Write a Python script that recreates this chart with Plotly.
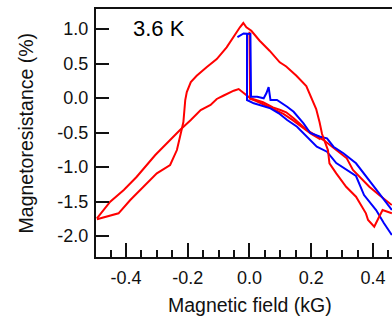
import plotly.graph_objects as go

# Red branch A (large peak, jumps)
red_a_x = [-0.494, -0.424, -0.386, -0.354, -0.300, -0.257, -0.235, -0.225, -0.214, -0.208, -0.203, -0.190,
           -0.171, -0.139, -0.106, -0.074, -0.053, -0.031, -0.020, -0.010, 0.006, 0.033, 0.065, 0.098,
           0.119, 0.152, 0.184, 0.200, 0.216, 0.227, 0.235, 0.254, 0.259, 0.281, 0.313, 0.345, 0.377,
           0.384, 0.404, 0.420, 0.431, 0.461]
red_a_y = [-1.758, -1.671, -1.478, -1.333, -1.091, -0.971, -0.754, -0.561, -0.348, -0.029, 0.087, 0.232,
           0.323, 0.445, 0.565, 0.735, 0.880, 1.025, 1.087, 1.025, 0.975, 0.830, 0.686, 0.517,
           0.457, 0.323, 0.174, 0.010, -0.159, -0.352, -0.522, -0.754, -0.946, -1.091, -1.286, -1.430, -1.671,
           -1.768, -1.865, -1.720, -1.623, -1.671]

# Red branch B (small peak)
red_b_x = [-0.494, -0.451, -0.407, -0.365, -0.305, -0.268, -0.225, -0.190, -0.158, -0.126, -0.106, -0.085,
           -0.064, -0.051, -0.035, -0.019, 0.003, 0.044, 0.076, 0.100, 0.119, 0.143, 0.186, 0.240,
           0.283, 0.315, 0.335, 0.367, 0.388, 0.420, 0.461]
red_b_y = [-1.743, -1.503, -1.333, -1.141, -0.826, -0.657, -0.464, -0.319, -0.174, -0.101, -0.014, 0.033,
           0.083, 0.106, 0.130, 0.077, -0.004, -0.062, -0.135, -0.174, -0.207, -0.294, -0.464, -0.609,
           -0.754, -0.874, -1.043, -1.188, -1.286, -1.406, -1.551]

# Red short branch C (drop near zero field)
red_c_x = [0.0, 0.002, 0.020, 0.050, 0.080, 0.110, 0.140, 0.170, 0.200, 0.230]
red_c_y = [0.960, -0.010, -0.040, -0.100, -0.160, -0.230, -0.320, -0.420, -0.520, -0.600]

# Blue branch 1
blue1_x = [-0.039, -0.019, 0.003, 0.005, 0.025, 0.046, 0.055, 0.062, 0.068, 0.089, 0.122, 0.143, 0.175,
           0.197, 0.229, 0.251, 0.272, 0.304, 0.345, 0.388, 0.420, 0.461]
blue1_y = [0.884, 0.935, 0.928, 0.019, 0.019, -0.004, 0.072, 0.159, -0.029, -0.029, -0.126, -0.199, -0.367,
           -0.507, -0.561, -0.584, -0.706, -0.801, -0.946, -1.188, -1.381, -1.623]

# Blue branch 2
blue2_x = [-0.008, -0.008, 0.014, 0.046, 0.068, 0.095, 0.122, 0.154, 0.186, 0.218, 0.251, 0.281, 0.345,
           0.371, 0.410, 0.435, 0.461]
blue2_y = [0.928, -0.029, -0.077, -0.126, -0.149, -0.222, -0.319, -0.416, -0.561, -0.706, -0.778, -0.942,
           -1.130, -1.406, -1.623, -1.812, -1.986]

x_ticks = [-0.4, -0.2, 0.0, 0.2, 0.4]
x_tick_labels = ["-0.4", "-0.2", "0.0", "0.2", "0.4"]
y_ticks = [1.0, 0.5, 0.0, -0.5, -1.0, -1.5, -2.0]
y_tick_labels = ["1.0", "0.5", "0.0", "-0.5", "-1.0", "-1.5", "-2.0"]

RED = "#ff0000"
BLUE = "#0000ff"
FONT = "Liberation Sans, Arial, sans-serif"
INK = "#111111"

fig = go.Figure()
for xs, ys, col in [(red_b_x, red_b_y, RED), (red_c_x, red_c_y, RED),
                    (blue1_x, blue1_y, BLUE), (blue2_x, blue2_y, BLUE),
                    (red_a_x, red_a_y, RED)]:
    fig.add_trace(go.Scatter(x=xs, y=ys, mode="lines",
                             line=dict(color=col, width=2), showlegend=False,
                             hoverinfo="skip"))

fig.update_layout(
    width=392, height=319,
    margin=dict(l=96, r=0, t=9, b=62, autoexpand=False),
    paper_bgcolor="white", plot_bgcolor="white",
    font=dict(family=FONT, color=INK, size=18),
    showlegend=False,
)
fig.update_xaxes(
    range=[-0.497, 0.4615], showgrid=False, zeroline=False, automargin=False,
    showline=True, linecolor=INK, linewidth=2, mirror=True,
    ticks="inside", ticklen=14, tickwidth=2, tickcolor=INK,
    tickvals=x_ticks, ticktext=x_tick_labels,
    tickfont=dict(size=18, family=FONT, color=INK),
    ticklabelstandoff=3,
    minor=dict(dtick=0.05, tick0=0, ticks="inside", ticklen=7, tickwidth=2, tickcolor=INK),
)
fig.update_yaxes(
    range=[-2.304, 1.29], showgrid=False, zeroline=False, automargin=False,
    showline=True, linecolor=INK, linewidth=2, mirror=False,
    ticks="inside", ticklen=13, tickwidth=2, tickcolor=INK,
    tickvals=y_ticks, ticktext=y_tick_labels,
    tickfont=dict(size=18, family=FONT, color=INK),
    ticklabelstandoff=2,
)
fig.add_annotation(text="Magnetic field (kG)", xref="paper", yref="paper",
                   x=0.52, y=-0.195, yanchor="middle", xanchor="center",
                   showarrow=False, font=dict(size=19.5, family=FONT, color=INK))
fig.add_annotation(text="Magnetoresistance (%)", xref="paper", yref="paper",
                   x=-0.235, y=0.5, textangle=-90, xanchor="center", yanchor="middle",
                   showarrow=False, font=dict(size=19.5, family=FONT, color=INK))
fig.add_annotation(text="3.6 K", xref="paper", yref="paper",
                   x=0.118, y=0.921, xanchor="left", yanchor="middle",
                   showarrow=False, font=dict(size=22, family=FONT, color="#000000"))

fig.write_html("out.html", config={"displayModeBar": False},
               post_script="document.body.style.margin='0';")
